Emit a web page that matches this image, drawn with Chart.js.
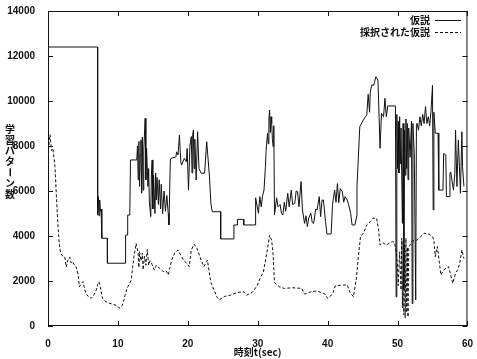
<!DOCTYPE html>
<html>
<head>
<meta charset="utf-8">
<script src="https://cdn.jsdelivr.net/npm/chart.js@4/dist/chart.umd.min.js"></script>
<style>
  html, body { margin: 0; padding: 0; background: #fff; }
  canvas { display: block; }
</style>
</head>
<body>
<canvas id="chart" width="477" height="359"></canvas>
<script>
// axis ticks
const xTicks = [0, 10, 20, 30, 40, 50, 60];
const yTicks = [0, 2000, 4000, 6000, 8000, 10000, 12000, 14000];

// 仮説 (solid line)
const hypX = [0, 7.1, 7.1, 7.2, 7.3, 7.4, 7.5, 7.6, 7.7, 8.5, 8.5, 11.1, 11.1, 11.4, 11.4, 11.7, 11.8, 12.7,
  12.8, 12.9, 13.0, 13.1, 13.2, 13.3, 13.4, 13.5, 13.6, 13.7, 13.9, 14.0, 14.1, 14.3, 14.4, 14.5, 14.7, 14.8,
  14.9, 15.0, 15.1, 15.3, 15.4, 15.5, 15.6, 15.8, 15.9, 16.1, 16.2, 16.4, 16.6, 16.8, 17.0, 17.2, 17.3, 17.5,
  17.6, 18.3, 18.4, 18.6, 18.8, 19.0, 19.1, 19.5, 19.8, 19.9, 20.1, 20.3, 20.5, 20.6, 20.7, 20.8, 20.9, 21.0,
  21.2, 21.4, 21.6, 21.9, 22.4, 22.7, 23.1, 23.3, 23.5, 24.7, 24.7, 26.6, 26.6, 27.1, 27.1, 28.0, 28.0, 29.7,
  29.7, 30.1, 30.3, 30.5, 30.7, 30.9, 31.1, 31.2, 31.4, 31.5, 31.6, 31.7, 31.8, 31.9, 32.0, 32.1, 32.2, 32.3,
  32.4, 32.7, 32.9, 33.2, 33.4, 33.6, 33.8, 34.0, 34.3, 34.5, 34.8, 35.0, 35.3, 35.5, 35.7, 35.9, 36.2, 36.4,
  36.7, 36.9, 37.1, 37.3, 37.6, 37.8, 38.0, 38.3, 38.5, 38.8, 39.0, 39.2, 39.4, 39.7, 39.9, 40.5, 40.7, 41.0,
  41.2, 41.4, 41.6, 41.8, 42.1, 42.3, 42.5, 42.8, 43.0, 43.3, 43.5, 43.9, 44.2, 44.2, 44.6, 45.1, 45.4, 45.6,
  45.8, 46.0, 46.1, 46.3, 46.6, 46.9, 47.2, 47.5, 47.7, 48.0, 48.2, 48.4, 48.6, 49.7, 49.8, 49.9, 50.0, 50.1,
  50.2, 50.3, 50.4, 50.5, 50.7, 50.8, 50.9, 51.0, 51.1, 51.2, 51.3, 51.4, 51.5, 51.6, 51.8, 52.0, 52.1, 52.2,
  52.4, 52.6, 52.7, 52.8, 53.0, 53.2, 53.4, 53.6, 53.8, 54.0, 54.2, 54.4, 54.6, 54.8, 55.0, 55.1, 55.2, 55.4,
  55.8, 55.9, 56.5, 56.6, 56.9, 57.0, 57.4, 57.5, 57.6, 58.0, 58.2, 58.3, 58.5, 58.7, 59.0, 59.2, 59.3, 59.5];
const hypY = [12400, 12400, 4930, 5750, 4900, 5600, 5100, 5200, 3900, 3900, 2790, 2790, 4040, 4040, 4930, 4930, 7380, 7380,
  8000, 6500, 8200, 6200, 7600, 8270, 5900, 8400, 6040, 7800, 9230, 6500, 7900, 6200, 7000, 5500, 4860, 6800,
  7380, 5200, 6700, 5000, 6800, 5600, 6600, 5400, 6500, 5200, 6300, 5000, 6000, 5100, 5800, 5000, 4490, 7380,
  7450, 7520, 7740, 7600, 8490, 7300, 7150, 7450, 7300, 7890, 6040, 8000, 8420, 6800, 8500, 8710, 7000, 8300,
  6490, 8640, 7000, 6790, 6790, 8190, 6640, 5450, 5080, 5080, 3870, 3870, 4490, 4490, 4740, 4740, 4490, 4490,
  5700, 5010, 5750, 5300, 5800, 6040, 7080, 7800, 8560, 8100, 9200, 9600, 8600, 9300, 9010, 8300, 7970, 8900,
  4930, 5700, 5300, 5400, 5000, 4930, 5500, 5100, 5900, 5300, 6040, 5400, 5450, 6000, 5970, 5300, 6420, 5160,
  4560, 4900, 4420, 4800, 5010, 4600, 4560, 5200, 5160, 5750, 4860, 5600, 5600, 4640, 4090, 4090, 5400, 6040,
  5500, 6330, 5480, 6100, 5970, 5500, 5750, 5600, 5400, 5000, 4490, 4490, 4930, 6200, 8860, 9150, 9300, 9380,
  10300, 9500, 10400, 10710, 10700, 11080, 10930, 7900, 9450, 9300, 10120, 9300, 9780, 9780, 1300, 9400, 7000, 9100,
  6800, 9300, 7200, 8800, 4560, 9000, 1600, 8700, 6700, 9200, 7000, 9000, 6500, 8800, 7500, 9100, 1000, 9000,
  7600, 1160, 8900, 9010, 8700, 9300, 8900, 9400, 9000, 9750, 9000, 9300, 8900, 9600, 10700, 5160, 9500, 8570,
  8570, 6040, 6040, 7670, 7600, 5750, 5750, 6780, 6850, 6040, 6780, 8710, 6200, 8270, 5900, 8630, 7080, 6200];

// 採択された仮説 (dashed line)
const accX = [0, 0.2, 0.3, 0.5, 0.7, 1.0, 1.2, 1.4, 1.6, 1.8, 2.1, 2.4, 2.6, 2.8, 3.1, 3.3, 3.5, 3.8, 4.0, 4.3,
  4.5, 4.8, 5.0, 5.2, 5.4, 5.8, 6.2, 6.5, 6.9, 7.1, 7.3, 7.5, 7.8, 8.0, 8.3, 8.6, 9.0, 9.3, 9.7, 10.0, 10.3,
  10.6, 10.8, 11.0, 11.3, 11.6, 11.9, 12.1, 12.3, 12.6, 12.9, 13.0, 13.1, 13.3, 13.5, 13.6, 13.8, 14.0, 14.2,
  14.4, 14.6, 14.8, 15.2, 15.5, 16.0, 16.5, 16.9, 17.2, 17.7, 18.1, 18.6, 19.1, 19.5, 19.8, 20.2, 20.5, 20.9,
  21.3, 21.6, 21.9, 22.3, 22.8, 23.3, 23.7, 24.2, 24.5, 25.2, 26.1, 27.0, 28.0, 28.4, 29.2, 29.9, 30.3, 30.8,
  31.3, 31.7, 32.0, 32.2, 32.4, 33.1, 33.8, 35.0, 36.3, 36.7, 37.6, 38.5, 39.6, 40.0, 40.7, 41.1, 41.8, 42.8,
  43.2, 43.7, 44.1, 44.4, 44.7, 45.1, 45.6, 46.1, 46.5, 47.0, 47.3, 47.5, 47.9, 48.4, 48.9, 49.3, 49.6, 49.8,
  50.0, 50.1, 50.3, 50.5, 50.6, 50.7, 50.8, 50.9, 51.0, 51.1, 51.2, 51.3, 51.4, 51.5, 51.6, 51.8, 52.0, 52.4,
  52.8, 53.3, 53.8, 54.5, 55.0, 55.2, 55.4, 55.7, 56.2, 56.6, 57.3, 57.9, 58.3, 58.6, 58.9, 59.2, 59.5];
const accY = [7600, 8300, 8500, 7800, 7900, 7070, 5800, 4580, 3700, 3240, 3100, 3070, 2620, 2900, 3070, 2800, 2860, 2700, 2640, 2300,
  1750, 1900, 1970, 1700, 1450, 1300, 1230, 1350, 1600, 1850, 1970, 1700, 1230, 1150, 1080, 1020, 1000, 950, 930, 850, 790,
  900, 1080, 1350, 1670, 1850, 2040, 2600, 3080, 3670, 3240, 2600, 3300, 2900, 3240, 2500, 3100, 2700, 3400,
  2710, 2900, 2800, 2490, 2700, 2550, 2420, 2450, 2270, 2930, 3230, 3380, 3080, 2900, 2790, 2640, 3380, 3640,
  3450, 3200, 2930, 2640, 2930, 1930, 1640, 1270, 1160, 1310, 1370, 1490, 1520, 1370, 1490, 1780, 2090, 2400,
  3230, 4040, 3800, 3200, 1930, 1740, 1670, 1700, 1670, 1420, 1520, 1560, 1420, 1230, 1420, 1780, 1810, 1830,
  1490, 1300, 2090, 3080, 3970, 4120, 4490, 4640, 4790, 4790, 4270, 3600, 3700, 3600, 3700, 3750, 3700, 3230,
  2640, 1800, 3300, 1600, 3900, 800, 3800, 500, 3600, 350, 3900, 600, 3500, 400, 3510, 3600, 3750, 3800,
  3820, 3970, 4120, 4090, 3970, 3820, 3080, 3530, 2270, 2490, 2640, 1900, 2350, 2490, 2790, 3380, 3000];

const hypData = hypX.map((x, i) => ({ x: x, y: hypY[i] }));
const accData = accX.map((x, i) => ({ x: x, y: accY[i] }));

const ink = '#111';
const jpFont = 'bold 10px "Noto Sans CJK JP", sans-serif';
const tickFontSpec = { family: '"Liberation Sans", Arial, sans-serif', size: 10, weight: 'bold' };

// gnuplot style frame, inward ticks, titles and legend
const gnuplotFrame = {
  id: 'gnuplotFrame',
  afterDraw(chart) {
    const { ctx, chartArea: a, scales } = chart;
    ctx.save();
    ctx.strokeStyle = ink;
    ctx.lineWidth = 1;
    ctx.strokeRect(a.left + 0.5, a.top + 0.5, a.right - a.left - 1, a.bottom - a.top - 1);

    ctx.beginPath();
    yTicks.forEach(v => {
      const y = Math.round(scales.y.getPixelForValue(v)) + 0.5;
      ctx.moveTo(a.left, y); ctx.lineTo(a.left + 5, y);
      ctx.moveTo(a.right, y); ctx.lineTo(a.right - 5, y);
    });
    xTicks.forEach(v => {
      const x = Math.round(scales.x.getPixelForValue(v)) + 0.5;
      ctx.moveTo(x, a.bottom); ctx.lineTo(x, a.bottom - 5);
      ctx.moveTo(x, a.top); ctx.lineTo(x, a.top + 5);
    });
    ctx.stroke();

    // legend
    ctx.fillStyle = ink;
    ctx.font = jpFont;
    ctx.textAlign = 'right';
    ctx.textBaseline = 'middle';
    ctx.fillText('仮説', 430, 20);
    ctx.fillText('採択された仮説', 430, 32);
    ctx.beginPath();
    ctx.moveTo(435, 20.5); ctx.lineTo(461, 20.5);
    ctx.stroke();
    ctx.setLineDash([3, 2]);
    ctx.beginPath();
    ctx.moveTo(435, 32.5); ctx.lineTo(461, 32.5);
    ctx.stroke();
    ctx.setLineDash([]);

    // y title, upright stacked characters (long vowel mark turned as in vertical text)
    ctx.textAlign = 'center';
    const yTitle = '学習パターン数';
    [...yTitle].forEach((ch, i) => {
      const cy = 129 + i * 10.8;
      if (ch === 'ー') {
        ctx.save();
        ctx.translate(10, cy);
        ctx.rotate(Math.PI / 2);
        ctx.fillText(ch, 0, 0);
        ctx.restore();
      } else {
        ctx.fillText(ch, 10, cy);
      }
    });

    // x title
    ctx.fillText('時刻t(sec)', (a.left + a.right) / 2, 352);
    ctx.restore();
  }
};

new Chart(document.getElementById('chart'), {
  type: 'line',
  data: {
    datasets: [
      {
        label: '仮説',
        data: hypData,
        borderColor: ink,
        borderWidth: 1,
        pointRadius: 0,
        tension: 0,
        fill: false
      },
      {
        label: '採択された仮説',
        data: accData,
        borderColor: ink,
        borderWidth: 1,
        borderDash: [3, 2],
        pointRadius: 0,
        tension: 0,
        fill: false
      }
    ]
  },
  options: {
    responsive: false,
    animation: false,
    devicePixelRatio: 1,
    layout: { padding: { left: 0, right: 4, top: 11, bottom: 0 } },
    plugins: {
      legend: { display: false },
      tooltip: { enabled: false }
    },
    scales: {
      x: {
        type: 'linear',
        min: 0,
        max: 60,
        grid: { display: false },
        border: { display: false },
        afterFit(scale) { scale.height = 33; },
        afterBuildTicks(scale) { scale.ticks = xTicks.map(v => ({ value: v })); },
        ticks: {
          color: ink,
          padding: 4,
          maxRotation: 0,
          font: tickFontSpec,
          callback: v => String(v)
        }
      },
      y: {
        min: 0,
        max: 14000,
        grid: { display: false },
        border: { display: false },
        afterFit(scale) { scale.width = 48; },
        afterBuildTicks(scale) { scale.ticks = yTicks.map(v => ({ value: v })); },
        ticks: {
          color: ink,
          padding: 5,
          font: tickFontSpec,
          callback: v => String(v)
        }
      }
    }
  },
  plugins: [gnuplotFrame]
});
</script>
</body>
</html>
